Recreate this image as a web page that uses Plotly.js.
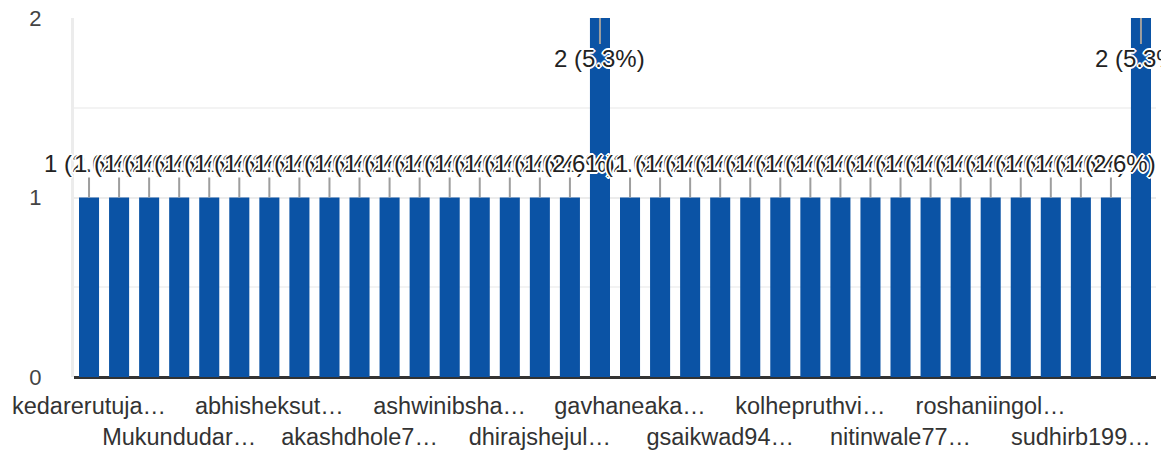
<!DOCTYPE html>
<html>
<head>
<meta charset="utf-8">
<script src="https://cdn.plot.ly/plotly-3.0.1.min.js"></script>
<style>html,body{margin:0;padding:0;background:#fff;}#chart{width:1161px;height:451px;}</style>
</head>
<body>
<div id="chart"></div>
<script>
// Respondents (36 bars); only every third name is shown on the axis
const categories = [
  "kedarerutuja", "respondent 02", "respondent 03",
  "Mukundudar", "respondent 05", "respondent 06",
  "abhisheksut", "respondent 08", "respondent 09",
  "akashdhole7", "respondent 11", "respondent 12",
  "ashwinibsha", "respondent 14", "respondent 15",
  "dhirajshejul", "respondent 17", "respondent 18",
  "gavhaneaka", "respondent 20", "respondent 21",
  "gsaikwad94", "respondent 23", "respondent 24",
  "kolhepruthvi", "respondent 26", "respondent 27",
  "nitinwale77", "respondent 29", "respondent 30",
  "roshaniingol", "respondent 32", "respondent 33",
  "sudhirb199", "respondent 35", "respondent 36"
];
const counts = [1,1,1,1,1,1,1,1,1,1,1,1,1,1,1,1,1,2,1,1,1,1,1,1,1,1,1,1,1,1,1,1,1,1,1,2];
const tickRow1Labels = ["kedarerutuja…","abhisheksut…","ashwinibsha…","gavhaneaka…","kolhepruthvi…","roshaniingol…"];
const tickRow2Labels = ["Mukundudar…","akashdhole7…","dhirajshejul…","gsaikwad94…","nitinwale77…","sudhirb199…"];
const yTicks = [0, 1, 2];

const total = counts.reduce((a, b) => a + b, 0);
const row1Vals = categories.filter((c, i) => i % 6 === 0);
const row2Vals = categories.filter((c, i) => i % 6 === 3);
const maxY = 2;

const barColor = "#0b53a5";
const font = "Arial, 'Liberation Sans', sans-serif";
const halo = "2px 0 0 #fff, -2px 0 0 #fff, 0 2px 0 #fff, 0 -2px 0 #fff, 1px 1px 0 #fff, -1px -1px 0 #fff, 1px -1px 0 #fff, -1px 1px 0 #fff";

const annotations = categories.map((c, i) => ({
  x: c, y: counts[i], xref: "x", yref: "y",
  text: counts[i] + " (" + (counts[i] / total * 100).toFixed(1) + "%)",
  showarrow: true, arrowhead: 0, arrowwidth: 2, arrowcolor: "#9e9e9e",
  ax: 0, ay: counts[i] >= maxY ? 40 : -34,
  font: {family: font, size: 24, color: "#222", shadow: halo},
  borderpad: 0
}));

const traces = [
  {type: "bar", x: categories, y: counts, marker: {color: barColor}, hoverinfo: "x+y", cliponaxis: false},
  {type: "scatter", x: categories, y: counts, xaxis: "x2", yaxis: "y", mode: "markers",
   marker: {opacity: 0}, hoverinfo: "skip", showlegend: false}
];

const xRange = [-0.5, categories.length - 0.5];

const layout = {
  width: 1161, height: 451,
  margin: {l: 74, r: 5, t: 18, b: 74},
  paper_bgcolor: "#fff", plot_bgcolor: "#fff",
  showlegend: false, bargap: 0.333,
  font: {family: font, color: "#444"},
  xaxis: {
    type: "category", range: xRange, autorange: false,
    tickmode: "array", tickvals: row1Vals, ticktext: tickRow1Labels,
    showgrid: false, zeroline: false, showline: false, ticks: "",
    ticklabelstandoff: 12,
    tickfont: {family: font, size: 23.5, color: "#333"}, fixedrange: true
  },
  xaxis2: {
    type: "category", overlaying: "x", matches: "x", anchor: "y", side: "bottom",
    range: xRange, autorange: false,
    tickmode: "array", tickvals: row2Vals, ticktext: tickRow2Labels,
    showgrid: false, zeroline: false, showline: false, ticks: "",
    ticklabelstandoff: 43,
    tickfont: {family: font, size: 23.5, color: "#333"}, fixedrange: true
  },
  yaxis: {
    range: [0, maxY], tickmode: "array", tickvals: yTicks,
    showgrid: true, gridcolor: "#ececec", gridwidth: 2,
    minor: {dtick: 0.5, showgrid: true, gridcolor: "#f3f3f3", gridwidth: 2},
    zeroline: true, zerolinecolor: "#333", zerolinewidth: 3,
    showline: true, linecolor: "#ececec", linewidth: 3,
    ticks: "", ticklabelstandoff: 25,
    tickfont: {family: font, size: 22, color: "#444"}, fixedrange: true
  },
  annotations: annotations
};

Plotly.newPlot("chart", traces, layout, {displayModeBar: false, staticPlot: true});
</script>
</body>
</html>
